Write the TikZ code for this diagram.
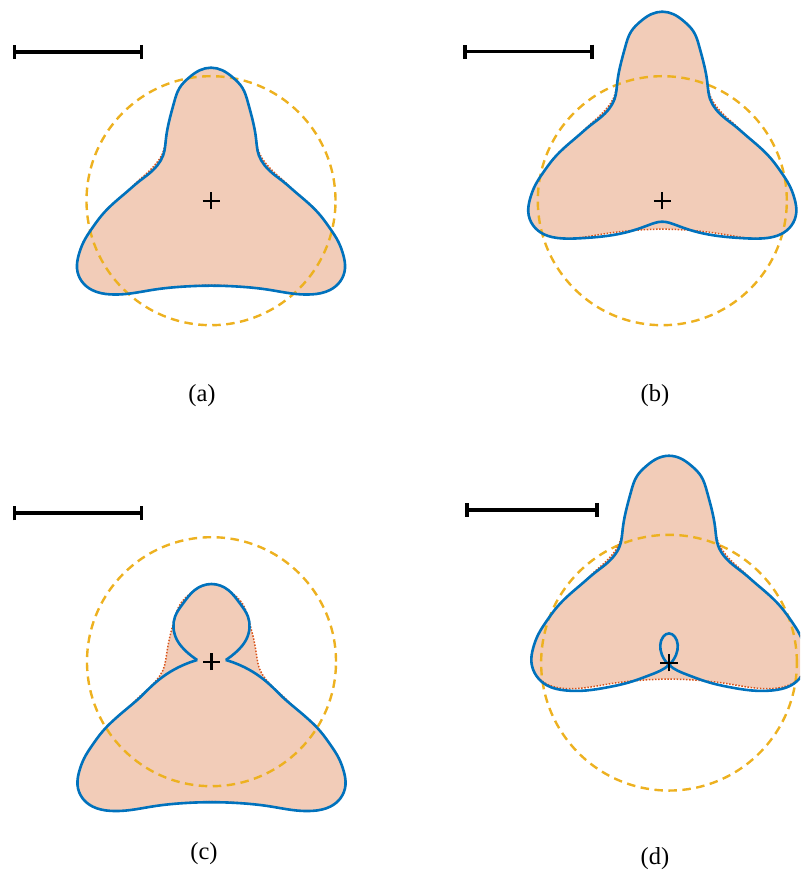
\documentclass[tikz,border=0pt]{standalone}
\usepackage{fontspec}
\newfontfamily\capfont{Liberation Serif}
\usetikzlibrary{arrows.meta, hobby}
\definecolor{reconblue}{HTML}{0072BD}
\definecolor{exactred}{HTML}{D95319}
\definecolor{guessgold}{HTML}{EDB120}
\definecolor{bodypeach}{HTML}{F2CCB8}

% exact boundary, given relative to the centre of panel (a)
\newcommand{\exactshape}{(0,133) .. (11.1,130.5) .. (22.1,123) .. (31.3,113) .. (37,98)
  .. (42,79) .. (45,62.4) .. (48.8,46.5) .. (55,37) .. (63,28.5) .. (72.8,19.8)
  .. (84,9) .. (95.7,-1) .. (109,-14.3) .. (119,-27.7) .. (127.3,-41) .. (132.3,-54.3) .. (134,-67.7)
  .. (129,-81) .. (119,-89.3) .. (100.7,-93.7) .. (80.7,-92.8) .. (57.3,-89) .. (27.3,-85.6)
  .. (0,-84.5) .. (-27.3,-85.6) .. (-57.3,-89) .. (-80.7,-92.8) .. (-100.7,-93.7) .. (-119,-89.3)
  .. (-129,-81) .. (-134,-67.7) .. (-132.3,-54.3) .. (-127.3,-41) .. (-119,-27.7) .. (-109,-14.3)
  .. (-95.7,-1) .. (-84,9) .. (-72.8,19.8) .. (-63,28.5) .. (-55,37) .. (-48.8,46.5) .. (-45,62.4)
  .. (-42,79) .. (-37,98) .. (-31.3,113) .. (-22.1,123) .. (-11.1,130.5)}

\begin{document}
\begin{tikzpicture}[
  x=1pt, y=1pt,
  body/.style={fill=bodypeach, use Hobby shortcut, closed=true},
  exact/.style={draw=exactred, line width=1.5pt, dash pattern=on 1.5pt off 1.6pt,
                use Hobby shortcut, closed=true},
  guess/.style={draw=guessgold, line width=2.4pt, dash pattern=on 8.5pt off 5.5pt},
  recon/.style={draw=reconblue, line width=2.6pt, line join=round, use Hobby shortcut},
  centre/.style={draw=black, line width=2.2pt},
  scalebar/.style={draw=black, line width=3.6pt, {Bar[width=14pt]}-{Bar[width=14pt]}},
  caption/.style={font=\capfont\fontsize{24.5}{28}\selectfont, inner sep=0pt}
]
\clip (0,0) rectangle (800,872);
\useasboundingbox (0,0) rectangle (800,872);

% (a)
\begin{scope}[shift={(211,671.3)}]
  \fill[body] \exactshape;
  \draw[guess] (0,0) circle[radius=124.5];
  \draw[exact] \exactshape;
  \draw[recon, closed=true] (0,133) .. (11.1,130.5) .. (22.1,123) .. (31.3,113) .. (37,98)
    .. (42,79) .. (45,62.4) .. (47.8,45.5) .. (53.5,35.5) .. (62,27) .. (72.3,19)
    .. (84,9) .. (95.7,-1) .. (109,-14.3) .. (119,-27.7) .. (127.3,-41) .. (132.3,-54.3) .. (134,-67.7)
    .. (129,-81) .. (119,-89.3) .. (100.7,-93.7) .. (80.7,-92.8) .. (57.3,-89) .. (27.3,-85.9)
    .. (0,-85) .. (-27.3,-85.9) .. (-57.3,-89) .. (-80.7,-92.8) .. (-100.7,-93.7) .. (-119,-89.3)
    .. (-129,-81) .. (-134,-67.7) .. (-132.3,-54.3) .. (-127.3,-41) .. (-119,-27.7) .. (-109,-14.3)
    .. (-95.7,-1) .. (-84,9) .. (-72.3,19) .. (-62,27) .. (-53.5,35.5) .. (-47.8,45.5) .. (-45,62.4)
    .. (-42,79) .. (-37,98) .. (-31.3,113) .. (-22.1,123) .. (-11.1,130.5);
  \coordinate (ctrA) at (0,0);
  \draw[centre] (-8.5,0) -- (8.5,0) (0,-8.5) -- (0,8.5);
\end{scope}
\coordinate (barAl) at (12.7,820);
\coordinate (barAr) at (143.3,820);
\draw[scalebar] (barAl) -- (barAr);
\node[caption] (capA) at (202,476) {(a)};

% (b)
\begin{scope}[shift={(662.3,671.3)}]
  \begin{scope}[shift={(0,56)}]
    \fill[body] \exactshape;
  \end{scope}
  \draw[guess] (0,0) circle[radius=124.5];
  \begin{scope}[shift={(0,56)}]
    \draw[exact] \exactshape;
    \draw[recon, closed=true] (0,133) .. (11.1,130.5) .. (22.1,123) .. (31.3,113) .. (37,98)
      .. (42,79) .. (45,62.4) .. (47.8,45.5) .. (53.5,35.5) .. (62,27) .. (72.3,19)
      .. (84,9) .. (95.7,-1) .. (109,-14.3) .. (119,-27.7) .. (127.3,-41) .. (132.3,-54.3)
      .. (134,-67.7) .. (129,-81) .. (119,-89.3) .. (100.7,-93.7) .. (80.7,-93.5) .. (57.3,-91.5)
      .. (30,-86) .. (14,-80.5) .. (0,-77) .. (-14,-80.5) .. (-30,-86) .. (-57.3,-91.5)
      .. (-80.7,-93.5) .. (-100.7,-93.7) .. (-119,-89.3) .. (-129,-81) .. (-134,-67.7)
      .. (-132.3,-54.3) .. (-127.3,-41) .. (-119,-27.7) .. (-109,-14.3) .. (-95.7,-1) .. (-84,9)
      .. (-72.3,19) .. (-62,27) .. (-53.5,35.5) .. (-47.8,45.5) .. (-45,62.4) .. (-42,79)
      .. (-37,98) .. (-31.3,113) .. (-22.1,123) .. (-11.1,130.5);
  \end{scope}
  \coordinate (ctrB) at (0,0);
  \draw[centre] (-8.5,0) -- (8.5,0) (0,-8.5) -- (0,8.5);
\end{scope}
\coordinate (barBl) at (463.3,820.3);
\coordinate (barBr) at (594,820.3);
\draw[scalebar] (barBl) -- (barBr);
\node[caption] (capB) at (655,476) {(b)};

% (c)
\begin{scope}[shift={(211.5,210.3)}]
  \begin{scope}[shift={(0,-55.5)}]
    \fill[body] \exactshape;
  \end{scope}
  \draw[guess] (0,0) circle[radius=124.5];
  \begin{scope}[shift={(0,-55.5)}]
    \draw[exact] \exactshape;
    \draw[recon] (-14.3,57.2) .. (-25,65.5) .. (-34.5,77.2) .. (-38,89.5) .. (-36.5,100.5)
      .. (-28.3,113.9) .. (-16.7,127.2) .. (0,133.2) .. (16.7,127.2) .. (28.3,113.9)
      .. (36.5,100.5) .. (38,89.5) .. (34.5,77.2) .. (25,65.5) .. (14.3,57.2);
    \draw[recon] (14.3,57.2) .. (29,51.8) .. (45,43) .. (60,31) .. (72.3,19) .. (84,9)
      .. (95.7,-1) .. (109,-14.3) .. (119,-27.7) .. (127.3,-41) .. (132.3,-54.3) .. (134,-67.7)
      .. (129,-81) .. (119,-89.3) .. (100.7,-93.7) .. (80.7,-92.8) .. (57.3,-89) .. (27.3,-85.9)
      .. (0,-85) .. (-27.3,-85.9) .. (-57.3,-89) .. (-80.7,-92.8) .. (-100.7,-93.7) .. (-119,-89.3)
      .. (-129,-81) .. (-134,-67.7) .. (-132.3,-54.3) .. (-127.3,-41) .. (-119,-27.7) .. (-109,-14.3)
      .. (-95.7,-1) .. (-84,9) .. (-72.3,19) .. (-60,31) .. (-45,43) .. (-29,51.8) .. (-14.3,57.2);
  \end{scope}
  \coordinate (ctrC) at (0,0);
  \draw[centre] (-8.5,0) -- (8.5,0) (0,-8.5) -- (0,8.5);
\end{scope}
\coordinate (barCl) at (12.7,358.7);
\coordinate (barCr) at (143.3,358.7);
\draw[scalebar] (barCl) -- (barCr);
\node[caption] (capC) at (204,18) {(c)};

% (d)
\begin{scope}[shift={(669,209.3)}, scale=1.027]
  \begin{scope}[shift={(0,68.5)}]
    \fill[body] \exactshape;
  \end{scope}
  \draw[guess] (0,0) circle[radius=124.5];
  \begin{scope}[shift={(0,68.5)}]
    \draw[exact] \exactshape;
    \draw[recon, closed=true] (0,133) .. (11.1,130.5) .. (22.1,123) .. (31.3,113) .. (37,98)
      .. (42,79) .. (45,62.4) .. (47.8,45.5) .. (53.5,35.5) .. (62,27) .. (72.3,19)
      .. (84,9) .. (95.7,-1) .. (109,-14.3) .. (119,-27.7) .. (127.3,-41) .. (132.3,-54.3)
      .. (134,-67.7) .. (129,-81.5) .. (119,-90.5) .. (100.7,-95.5) .. (80,-95.5) .. (60,-92.5)
      .. (40,-88) .. (18.5,-80.5) .. (0,-70.7) .. (-7,-60.5) .. (-8.5,-51.3) .. (-5.5,-43) .. (0,-40)
      .. (5.5,-43) .. (8.5,-51.3) .. (7,-60.5) .. (0,-70.7) .. (-18.5,-80.5) .. (-40,-88)
      .. (-60,-92.5) .. (-80,-95.5) .. (-100.7,-95.5) .. (-119,-90.5) .. (-129,-81.5)
      .. (-134,-67.7) .. (-132.3,-54.3) .. (-127.3,-41) .. (-119,-27.7) .. (-109,-14.3)
      .. (-95.7,-1) .. (-84,9) .. (-72.3,19) .. (-62,27) .. (-53.5,35.5) .. (-47.8,45.5)
      .. (-45,62.4) .. (-42,79) .. (-37,98) .. (-31.3,113) .. (-22.1,123) .. (-11.1,130.5);
  \end{scope}
  \coordinate (ctrD) at (0,0);
  \draw[centre] (-8.5,0) -- (8.5,0) (0,-8.5) -- (0,8.5);
\end{scope}
\coordinate (barDl) at (465,362);
\coordinate (barDr) at (598.7,362);
\draw[scalebar] (barDl) -- (barDr);
\node[caption] (capD) at (655,13) {(d)};
\end{tikzpicture}
\end{document}
